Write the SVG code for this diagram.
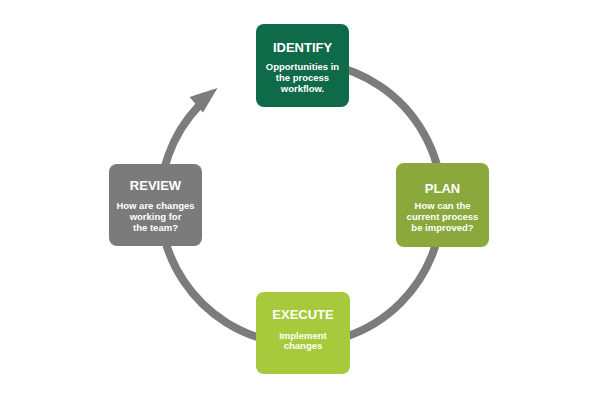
<svg xmlns="http://www.w3.org/2000/svg" width="600" height="400" viewBox="0 0 600 400">
<style>
.box{stroke:none}
.title{font-family:"Liberation Sans",Arial,sans-serif;font-weight:bold;font-size:13px;fill:#fff;text-anchor:middle}
.body{font-family:"Liberation Sans",Arial,sans-serif;font-weight:bold;font-size:9.5px;fill:#fff;text-anchor:middle}
.ring{fill:none;stroke:#7c7c7f;stroke-width:8}
</style>
<rect width="600" height="400" fill="#fff"/>
<g id="connectors">
<path class="ring" d="M325.5,64.1 A141,141 0 1 1 198.9,105.8"/>
<polygon points="217.5,88 189.5,97 203,112.5" fill="#7c7c7f"/>
</g>
<g id="identify">
<rect class="box" x="256" y="24" width="93" height="83" rx="8" fill="#0f6a4a"/>
<text class="title" x="302.5" y="52">IDENTIFY</text>
<text class="body" x="302.5" y="70">Opportunities in</text>
<text class="body" x="302.5" y="81">the process</text>
<text class="body" x="302.5" y="92">workflow.</text>
</g>
<g id="plan">
<rect class="box" x="396" y="163" width="93" height="84" rx="8" fill="#8aa83c"/>
<text class="title" x="442.5" y="193">PLAN</text>
<text class="body" x="442.5" y="208.5">How can the</text>
<text class="body" x="442.5" y="219.5">current process</text>
<text class="body" x="442.5" y="230.5">be improved?</text>
</g>
<g id="execute">
<rect class="box" x="256" y="292" width="94" height="82" rx="8" fill="#a6ca3b"/>
<text class="title" x="303" y="319">EXECUTE</text>
<text class="body" x="303" y="338.5">Implement</text>
<text class="body" x="303" y="349">changes</text>
</g>
<g id="review">
<rect class="box" x="109" y="164" width="93" height="82" rx="8" fill="#7b7b7c"/>
<text class="title" x="155.5" y="190">REVIEW</text>
<text class="body" x="155.5" y="208.5">How are changes</text>
<text class="body" x="155.5" y="219.5">working for</text>
<text class="body" x="155.5" y="230.5">the team?</text>
</g>
</svg>
